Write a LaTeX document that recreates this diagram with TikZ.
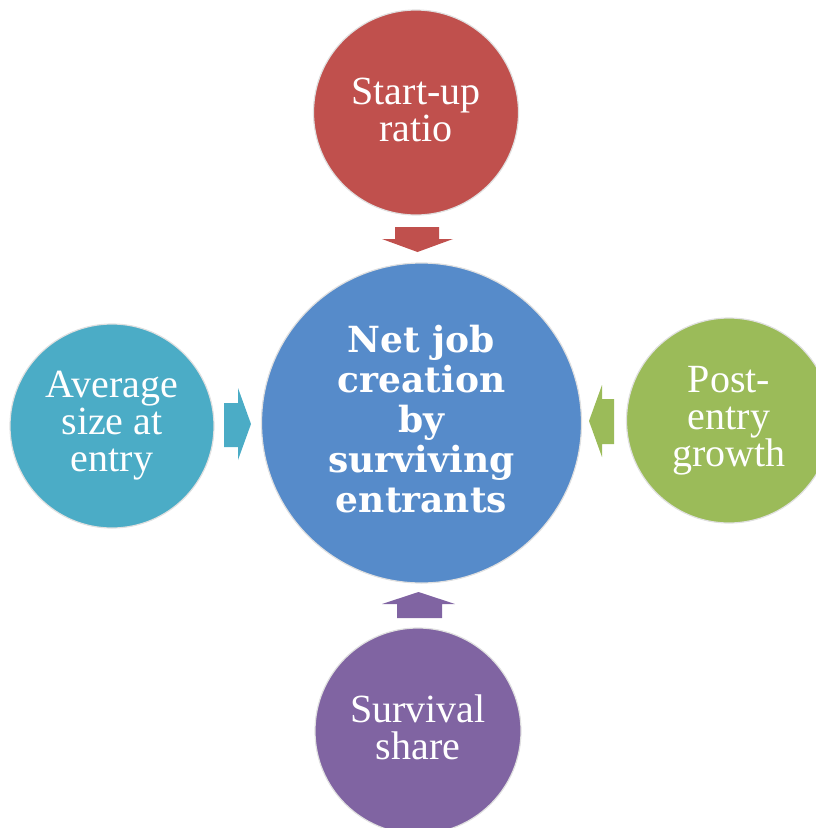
\documentclass[tikz,border=0pt]{standalone}
\usepackage{fontspec}
\setmainfont{Liberation Serif}
\newfontfamily\centerfont{DejaVu Serif}
\begin{document}
\begin{tikzpicture}[x=1pt,y=1pt,
  bubble/.style={circle, draw=black!12, line width=1.2pt, inner sep=0pt, text=white, align=center},
  outertext/.style={font=\fontsize{40}{37}\selectfont},
  centertext/.style={font=\centerfont\bfseries\fontsize{36}{40}\selectfont}
]
\useasboundingbox (0,0) rectangle (816,-828);
\clip (0,0) rectangle (816,-828);
\definecolor{cRed}{HTML}{C0504D}
\definecolor{cBlue}{HTML}{568BCA}
\definecolor{cTeal}{HTML}{4BACC6}
\definecolor{cGreen}{HTML}{9BBB59}
\definecolor{cPurple}{HTML}{8064A2}

\node[bubble, fill=cBlue, minimum size=320pt, centertext] (center) at (421.5,-423) {Net job\\creation\\by\\surviving\\entrants\rule[-8pt]{0pt}{0pt}};
\node[bubble, fill=cRed, minimum size=205pt, outertext] (top) at (416,-112.5) {Start-up\\ratio\rule[-6pt]{0pt}{0pt}};
\node[bubble, fill=cTeal, minimum size=204pt, outertext] (left) at (112,-426) {Average\\size at\\entry};
\node[bubble, fill=cGreen, minimum size=205pt, outertext] (right) at (729,-420.5) {Post-\\entry\\growth};
\node[bubble, fill=cPurple, minimum size=206pt, outertext] (bottom) at (418,-731) {Survival\\share\rule[-8pt]{0pt}{0pt}};

% block arrows
\fill[cRed] (395,-227) -- (439,-227) -- (439,-239) -- (453,-239) -- (417.5,-252) -- (382,-239) -- (395,-239) -- cycle;
\fill[cTeal] (224,-403) -- (238,-403) -- (238,-388) -- (251,-424) -- (238,-460) -- (238,-447) -- (224,-447) -- cycle;
\fill[cGreen] (614,-399) -- (602,-399) -- (602,-385) -- (589,-421) -- (602,-457) -- (602,-444) -- (614,-444) -- cycle;
\fill[cPurple] (397,-618) -- (442,-618) -- (442,-604) -- (455,-604) -- (418.5,-592) -- (382,-604) -- (397,-604) -- cycle;
\end{tikzpicture}
\end{document}
